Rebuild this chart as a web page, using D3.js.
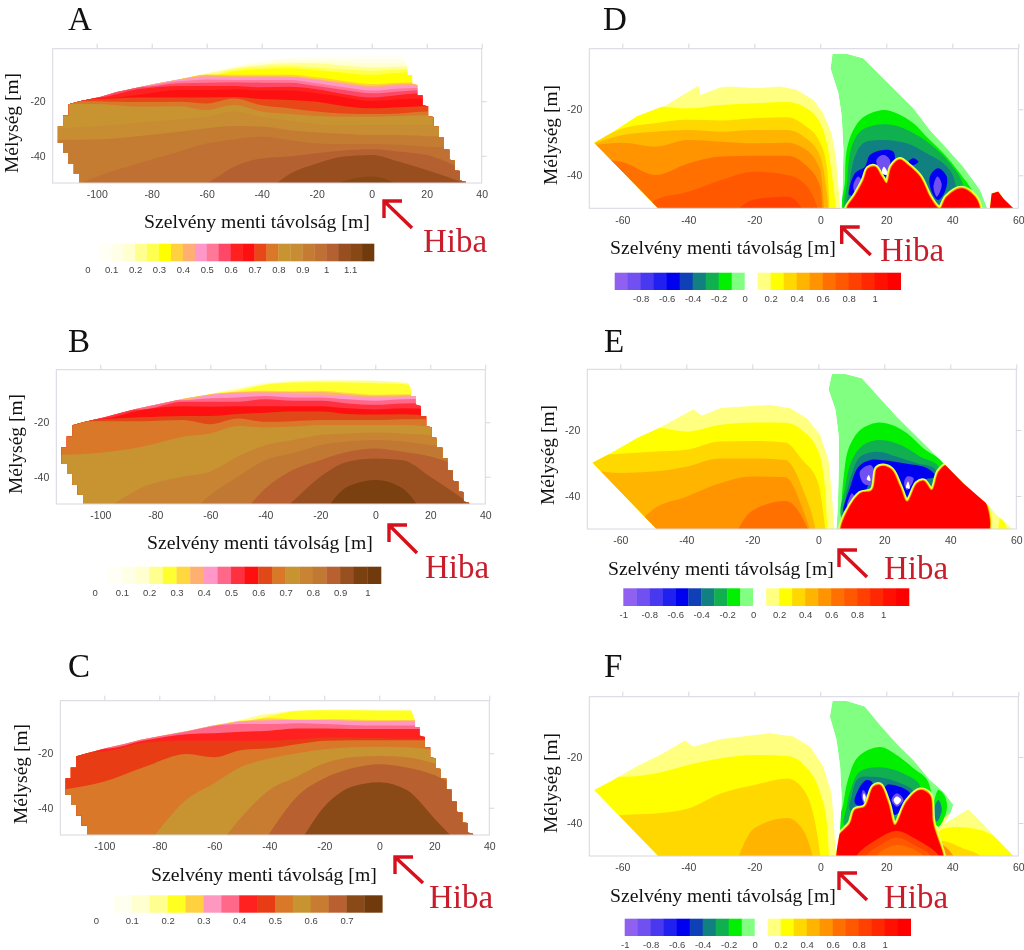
<!DOCTYPE html>
<html lang="en">
    <head>
        <meta charset="utf-8">
        <title>Szelvény menti távolság</title>
        <script src="https://d3js.org/d3.v7.min.js"></script>
        <style type="text/css">
            body { margin: 0; background: #fff; }
            svg { display: block; filter: blur(0.45px); }
            .tick text { font-family: "Liberation Sans", sans-serif; fill: #444; }
            .serif { font-family: "Liberation Serif", serif; }
        </style>
    </head>
    <body>
        <script type="text/javascript">

            // tick labels
            const leftXTicks = [-100, -80, -60, -40, -20, 0, 20, 40];
            const rightXTicks = [-60, -40, -20, 0, 20, 40, 60];
            const depthTicks = [-20, -40];
            const barTicksA = [0, 0.1, 0.2, 0.3, 0.4, 0.5, 0.6, 0.7, 0.8, 0.9, 1, 1.1];
            const barTicksB = [0, 0.1, 0.2, 0.3, 0.4, 0.5, 0.6, 0.7, 0.8, 0.9, 1];
            const barTicksC = [0, 0.1, 0.2, 0.3, 0.4, 0.5, 0.6, 0.7];
            const barTicksD = [-0.8, -0.6, -0.4, -0.2, 0, 0.2, 0.4, 0.6, 0.8, 1];
            const barTicksEF = [-1, -0.8, -0.6, -0.4, -0.2, 0, 0.2, 0.4, 0.6, 0.8, 1];

            // colour bars, one colour per 0.05 step (0.1 on the right side)
            const coloursA = ["#ffffff","#fffff5","#ffffe8","#ffffd0","#ffff90","#ffff50","#ffff00","#ffd040","#ffb070","#ff98c8","#ff7898","#ff4868","#ff2020","#ff1010","#e84818","#d87828","#c89432","#c88c32","#c47c32","#c07032","#b46030","#984e1e","#884815","#703a0c"];
            const coloursB = ["#ffffff","#fffff5","#ffffe8","#ffffd0","#ffff90","#ffff30","#ffd840","#ffb070","#ff98c8","#ff6888","#ff3040","#ff1010","#e04818","#d87828","#c89432","#c88432","#c07832","#b86030","#985020","#7a4010","#703a0c"];
            const coloursC = ["#ffffff","#fffff0","#ffffd0","#ffff90","#ffff20","#ffd040","#ff98c0","#ff6888","#ff2020","#e83c14","#d87828","#c89432","#c87c32","#b86030","#8a4a18","#703a0c"];
            const coloursRight = ["#9060f0","#7050f0","#4838f0","#2020f0","#0000f0","#1040b8","#108080","#10b050","#00f000","#80ff80","#ffffff","#ffff80","#ffff00","#ffd800","#ffb400","#ff9400","#ff7000","#ff5800","#ff4000","#ff2800","#ff1000","#ff0000"];

            // distance values where the contour tops of panels A, B, C were read
            const gridLeft = [-116, -100, -85, -70, -60, -50, -40, -30, -20, -10, 0, 10, 20, 35];

            const stairsRight = [[13,-8],[13,-10.4],[14.7,-10.4],[14.7,-13.5],[16.6,-14],[16.6,-17.8],[18.5,-17.8],[18.5,-21.5],[20.5,-21.8],[20.5,-25.5],[22.4,-25.8],[22.4,-29.2],[24.4,-29.4],[24.4,-33.1],[26.3,-33.4],[26.3,-37.5],[28.2,-37.8],[28.2,-41.5],[30.2,-41.7],[30.2,-45.4],[32.1,-45.6],[32.1,-49.1],[34.1,-49.5],[34.1,-50]];
            const stairsLeft = [[-106.3,-50],[-106.3,-46.6],[-108.3,-46.6],[-108.3,-42.9],[-110.2,-42.9],[-110.2,-39],[-112.1,-39],[-112.1,-35.3],[-114.1,-35.3],[-114.1,-29.2],[-112.2,-29.2],[-112.2,-25.2],[-110.2,-25.2],[-110.2,-21.1],[-106.3,-20]];

            const topA = [[-98.8,-18.4],[-92.7,-16.6],[-86.7,-15.3],[-78.2,-13.5],[-69.7,-11.9],[-60,-9.8],[-52.7,-8],[-43,-5.8],[-32.1,-4.3],[-20,-3.4],[-1.8,-3.1],[11.5,-3.1]];
            const topB = [[-98.8,-18.3],[-92.7,-16.6],[-86.7,-15],[-78.2,-13.2],[-69.7,-11.4],[-60,-9.7],[-52.7,-8],[-43,-5.9],[-32.1,-4.6],[-20,-4.3],[-1.8,-4.5],[12,-5.6]];
            const topC = [[-98.8,-18],[-92.7,-16.6],[-86.7,-15],[-78.2,-13.4],[-69.7,-11.8],[-60,-9.7],[-52.7,-8.4],[-43,-5.9],[-32.1,-4.4],[-20,-3.9],[-1.8,-3.9],[11.5,-3.9]];

            const levelsA = [0.075,0.125,0.175,0.225,0.275,0.325,0.375,0.425,0.475,0.525,0.575,0.625,0.675,0.725,0.775,0.825,0.875,0.925,0.975,1.025,1.075,1.125];
            const depthsA = [
                [-2,-2,-2,-2,-2,-2,-2,-2,-2,-2,-2,-2,-2,-2],
                [-5,-5,-5,-5,-5,-5,-4.8,-4.4,-4.2,-4.6,-4.8,-4.8,-5,-5],
                [-6,-6,-6,-7,-8,-7,-6.1,-5.1,-5.1,-5.6,-6.1,-6.1,-6,-6],
                [-9,-9,-9,-9,-9.5,-7.9,-6.7,-6.1,-6.1,-7,-7.6,-7.3,-7,-7],
                [-10,-10,-10,-10,-10.4,-8.3,-7.3,-7.1,-7.6,-8.3,-8.8,-8.3,-8,-8],
                [-10.5,-10.5,-10.5,-10.5,-10.8,-9,-8.2,-7.9,-8.6,-9.5,-10.3,-9.5,-9,-9],
                [-11.3,-11.3,-11.3,-11.3,-10.2,-10.3,-10.3,-10.3,-11.2,-12.6,-13.7,-13.2,-13,-13],
                [-11.6,-11.6,-11.6,-11.6,-10.5,-10.8,-10.8,-10.9,-11.9,-13.2,-14.4,-13.7,-13.5,-13.5],
                [-12.5,-12.5,-12.5,-12,-11,-11.2,-11.1,-11.2,-12.2,-13.7,-14.9,-14.2,-14,-14],
                [-13,-14,-14.5,-12.7,-12,-12.2,-12.2,-12.2,-13.4,-14.9,-16.1,-15.3,-15,-15],
                [-15,-15,-14.9,-13.4,-13.2,-13,-13.2,-13.2,-14.4,-15.9,-17.1,-16.4,-16,-16],
                [-18.6,-18.6,-15.6,-14.4,-14.4,-14.4,-14.9,-14.7,-15.6,-17.4,-18.6,-17.7,-17,-17],
                [-19,-19.1,-17.7,-15.9,-15.9,-15.6,-16.1,-16.1,-17.1,-18.5,-19.9,-19.3,-19,-19],
                [-19.5,-19.2,-18.6,-18.6,-18.6,-18.4,-19.2,-19.5,-20.2,-21.8,-22.6,-22.2,-21.8,-21.8],
                [-20,-20,-20.3,-20.2,-20.8,-19,-21.5,-22.6,-23.8,-24.5,-24.7,-24.5,-23.8,-24],
                [-21,-21,-22,-21.8,-23.2,-21.4,-23.8,-24.7,-25.4,-25.7,-25.7,-25.4,-25.1,-25],
                [-30,-29.1,-27.9,-26.6,-25.7,-23.8,-25.7,-27.1,-28.4,-28.9,-28.7,-28.7,-28.7,-29],
                [-34.2,-34,-32.8,-31.2,-29.9,-29.1,-29.3,-30.6,-31.5,-32,-32.4,-32.4,-32.8,-33],
                [-55,-47.7,-42.8,-38.5,-35.5,-34,-33,-34.2,-35.5,-35.7,-35.7,-36,-36.7,-37],
                [-70,-70,-60,-53,-50,-44,-41,-40.3,-39.1,-38.1,-37.6,-38.5,-39.7,-46],
                [-70,-70,-70,-70,-70,-65,-55,-46.8,-42.8,-40.3,-39.7,-42.2,-45.2,-50.5],
                [-70,-70,-70,-70,-70,-70,-65,-60,-55,-49.3,-47.6,-51,-60,-70]
            ];

            const levelsB = [0.075,0.125,0.175,0.225,0.275,0.325,0.375,0.425,0.475,0.525,0.575,0.625,0.675,0.725,0.775,0.825,0.875,0.925,0.975];
            const depthsB = [
                [-2,-2,-2,-2,-2,-2,-2,-2,-2,-2,-2,-2,-2,-2],
                [-5,-5,-5,-5,-5,-5,-4.5,-4.4,-4.3,-4.3,-4.5,-4.6,-5,-5],
                [-6,-6,-6,-6,-7,-7,-5.5,-4.8,-4.6,-4.6,-4.8,-5,-5,-5],
                [-8,-8,-8,-8,-9,-7.9,-6,-5.1,-4.8,-4.8,-4.8,-5.2,-6,-6],
                [-9,-9,-9,-9,-9.2,-8.4,-6.2,-5.4,-5.3,-5.4,-5.7,-6,-7,-7],
                [-9.3,-9.3,-9.3,-9.3,-9.5,-8.8,-8.4,-8.6,-8.4,-9.2,-9.9,-9.7,-9.7,-9.7],
                [-10,-10,-10,-10.5,-9.7,-9,-8.8,-8.9,-8.9,-9.7,-10.3,-10.1,-10,-10],
                [-11,-11,-11,-11.9,-10,-9.4,-9.2,-9.7,-9.9,-10.4,-10.9,-10.6,-10.5,-10.5],
                [-11,-11,-11,-11.9,-11.2,-10.9,-10.4,-10.9,-10.9,-11.6,-12.1,-11.6,-11.5,-11.5],
                [-15,-15,-15.3,-12.5,-12.5,-12.5,-11.6,-12.1,-12.1,-13.1,-13.6,-13.1,-13,-13],
                [-18.7,-18.7,-15.5,-14.1,-14.3,-14.1,-14.1,-14.1,-14.1,-14.9,-15.3,-14.9,-15,-15],
                [-19,-18.9,-18.2,-17.7,-17.7,-17,-16.5,-16.1,-16.1,-17,-17.2,-17.1,-17.5,-17.5],
                [-19.6,-19.6,-19.6,-19.2,-20.7,-18.6,-19.8,-19.6,-19.2,-19.2,-19.2,-18.9,-18.9,-18.9],
                [-32,-31.2,-29,-25.3,-24.1,-21.4,-21.9,-21.6,-21,-21,-21,-21,-21.4,-21.4],
                [-70,-54,-44,-40,-38.1,-32.6,-28.4,-26.5,-24.7,-24.1,-23.8,-24.1,-24.7,-25],
                [-70,-70,-70,-56,-46.7,-40,-33.9,-31.4,-28.4,-27.1,-26.5,-27.1,-28.4,-29],
                [-70,-70,-70,-70,-70,-56,-44.3,-37.5,-33.9,-30.8,-29.6,-30.8,-32.6,-38],
                [-70,-70,-70,-70,-70,-70,-58,-49,-40,-34.5,-33.3,-33.9,-40,-50.3],
                [-70,-70,-70,-70,-70,-70,-70,-70,-55,-43.6,-41.2,-44.3,-57,-70]
            ];

            const levelsC = [0.075,0.125,0.175,0.225,0.275,0.325,0.375,0.425,0.475,0.525,0.575,0.625,0.675,0.725];
            const depthsC = [
                [-2,-2,-2,-2,-2,-2,-2,-2,-2,-2,-2,-2,-2,-2],
                [-3.5,-3.5,-3.5,-3.5,-3.5,-3.5,-3.5,-3.5,-3.5,-3.5,-3.5,-3.5,-3.5,-3.5],
                [-6,-6,-6,-6,-6,-6,-5.6,-4.2,-3.9,-3.9,-4.1,-3.9,-4,-4],
                [-8,-8,-8,-8,-8,-8,-6.4,-4.5,-4.2,-4.2,-4.4,-4.4,-4.5,-4.5],
                [-8.2,-8.2,-8.2,-8.2,-8.2,-8.2,-7.2,-7.6,-7.5,-7.6,-7.8,-7.8,-7.8,-7.8],
                [-9,-9,-9,-9,-9.7,-8.3,-7.9,-7.8,-7.8,-8.1,-8.2,-8.1,-8.1,-8.1],
                [-14,-14,-14,-12,-10,-9.3,-9.3,-9,-9.3,-9.7,-9.8,-9.8,-9.8,-9.8],
                [-18,-18.3,-15.2,-13,-12.7,-12.1,-11.7,-10.9,-10.9,-11.1,-11.1,-11.1,-11.1,-11.1],
                [-20,-19.4,-16.1,-15.4,-15.4,-15.4,-15.4,-14.9,-14.2,-14.2,-14.4,-14.7,-14.7,-14.7],
                [-33.5,-30.4,-24.9,-20.3,-21.5,-18.8,-18.2,-16.7,-15.4,-15.2,-15.2,-15.2,-15.2,-15.2],
                [-70,-70,-54,-36.9,-31,-24.9,-21.9,-20,-18.5,-17.8,-17.6,-17.8,-18.6,-19],
                [-70,-70,-70,-70,-56,-43.3,-33.5,-28.6,-23.7,-21.5,-21,-21.5,-23.7,-29],
                [-70,-70,-70,-70,-70,-65,-49.5,-36,-29.2,-25.5,-24,-25.2,-28,-37],
                [-70,-70,-70,-70,-70,-70,-65,-54,-39.6,-32.3,-30.6,-33.5,-43.9,-60]
            ];

            // panels D, E, F: the positive lobe left of the fault
            const gridRight = [-70, -60, -50, -40, -30, -20, -10, -5, 0, 2, 4, 6];

            const lobeD = [[-68.5,-30.1],[-62.7,-26.8],[-55.7,-22.2],[-46.6,-18.7],[-37,-12.9],[-36.3,-15.7],[-30.4,-13.4],[-27.4,-13.1],[-19.3,-13.6],[-12.2,-13.1],[-7.2,-14.1],[-2.1,-17.2],[0.9,-21.2],[3.4,-27.3],[4.7,-34.3],[5.5,-43.4],[6,-50],[-49.1,-50]];
            const lobeE = [[-68.4,-29.9],[-63,-27.1],[-55,-22.5],[-48.4,-19.5],[-37.8,-13.7],[-35.3,-15.7],[-29.7,-13.4],[-26.7,-13.1],[-14.5,-12.4],[-8.5,-13.4],[-3.4,-16.5],[0.6,-21.5],[3.1,-29.1],[4.1,-39.2],[4.8,-50],[-49,-50]];
            const lobeF = [[-68.5,-30],[-63.7,-27.5],[-55.7,-22.9],[-47.6,-18.9],[-41,-15],[-38.5,-16.9],[-30.4,-14.6],[-25.4,-14],[-15.3,-12.8],[-8.2,-13.8],[-3.1,-16.9],[0.9,-22.9],[3.4,-31],[4.1,-40.1],[4.7,-50],[-49.1,-50]];

            const lobeLevelsD = [0.15,0.25,0.35,0.45,0.55,0.65,0.75,0.85];
            const lobeDepthsD = [
                [-2,-2,-2,-2,-2,-2,-2,-2,-2,-2,-2,-2],
                [-25,-22,-19.2,-19.7,-18.7,-18.2,-17.8,-19.2,-24.2,-30.3,-43.4,-65],
                [-31,-25.8,-24.2,-23.2,-23.4,-22.7,-22.4,-24.7,-30.3,-37.4,-70,-70],
                [-31,-27.8,-26.8,-26.3,-26.8,-26.3,-26.3,-28.3,-34.3,-45.5,-70,-70],
                [-31,-30.1,-31.3,-29.3,-29.8,-30.3,-30.1,-31.8,-38.4,-60,-70,-70],
                [-35,-36,-39.9,-36.4,-34.3,-34.1,-34.1,-36.4,-43.4,-70,-70,-70],
                [-70,-60,-47.5,-45,-41.4,-38.9,-39.9,-42.4,-53,-70,-70,-70],
                [-70,-70,-70,-70,-56,-47.3,-46.5,-51,-70,-70,-70,-70]
            ];
            const lobeLevelsE = [0.15,0.25,0.35,0.45,0.55,0.65];
            const lobeDepthsE = [
                [-2,-2,-2,-2,-2,-2,-2,-2,-2,-2,-2,-2],
                [-24,-24,-19.2,-20.5,-18.5,-17.7,-17.8,-20,-26.6,-37.2,-70,-70],
                [-28,-27.2,-26.6,-26,-23.5,-23.3,-23.8,-28.9,-36.2,-49.3,-70,-70],
                [-32,-33,-32.6,-31.1,-28.6,-28.6,-29.1,-37.2,-55,-70,-70,-70],
                [-70,-55,-44,-40.2,-36.2,-34.1,-34.3,-43.2,-60,-70,-70,-70],
                [-70,-70,-70,-70,-60,-44.5,-41.5,-46.3,-60,-70,-70,-70]
            ];
            const lobeLevelsF = [0.15,0.25,0.35,0.45];
            const lobeDepthsF = [
                [-2,-2,-2,-2,-2,-2,-2,-2,-2,-2,-2,-2],
                [-25,-26,-25,-22.4,-20.4,-19.4,-19.7,-22.4,-31,-40.1,-70,-70],
                [-42,-37.6,-37.1,-35.6,-31,-28.5,-26.5,-30,-50,-70,-70,-70],
                [-70,-70,-70,-70,-62,-41.6,-38.5,-42.5,-60,-70,-70,-70]
            ];

            // panels D, E, F: the part right of the fault, closed contours in painting order
            const wedgeD = [[3.7,-3.2],[8,-3.2],[13,-4.5],[17.1,-8.6],[23.1,-14.6],[28.2,-19.7],[33.2,-26.3],[38.3,-31.8],[43.3,-37.4],[48.4,-44.4],[50.6,-50],[6.5,-50],[6.8,-42.4],[7,-32.3],[6.5,-22.2],[5.5,-15.2],[3.1,-7.6]];
            const wedgeE = [[4.1,-3],[8.2,-3],[13.2,-4.3],[17.8,-9.4],[23.8,-16],[31.9,-24],[38.5,-30.6],[44,-36.2],[50.6,-42],[54.1,-45.8],[58.7,-50],[5.5,-50],[5.9,-43.2],[6.2,-32.1],[6.2,-22],[5.2,-13.9],[3.1,-7.7]];
            const wedgeF = [[3.7,-3],[8,-3],[13.5,-4.7],[18.1,-10.3],[23.1,-15.9],[28.2,-20.9],[33.2,-27],[37.3,-30.5],[40.3,-34.5],[39.5,-37],[37.3,-40.6],[44.8,-35.9],[58.5,-50],[4.7,-50],[6,-42.1],[6.5,-33],[6,-22.9],[4.9,-14.8],[2.9,-7.8]];
            const blobD = [[51.4,-50],[51.9,-45.5],[53.9,-44.9],[55.5,-47],[58.5,-50]];

            const contourValuesD = [-0.15,-0.25,-0.35,-0.55,-0.55,-0.55,-0.85,-0.85,-0.85,0.05,1.15,1.15];
            const contoursD = [
                [[19.1,-20.2],[13,-22.4],[10,-26.3],[8,-32.3],[7.5,-41.4],[7.5,-53],[47.9,-53],[46.4,-45.5],[42.3,-39.4],[37.3,-33.3],[32.2,-28.3],[28.2,-24.2],[23.1,-21.2]],
                [[17.1,-24.7],[12,-26.8],[9.5,-31.3],[8.2,-41.4],[8.2,-53],[43.3,-53],[42.9,-41.9],[39.3,-36.4],[34.2,-31.3],[29.2,-27.8],[23.1,-25]],
                [[18.1,-29.3],[13,-30.3],[10.5,-34.3],[8.8,-43.4],[8.8,-53],[40.3,-53],[40.3,-40.4],[37.3,-36.4],[32.2,-33.3],[26.2,-30.3]],
                [[19.1,-32.3],[15.1,-33.8],[13.5,-37.4],[10.5,-39.4],[8.8,-46],[12,-45.5],[17,-39.4],[20.5,-40.4],[22.6,-35.4],[22.1,-32.8]],
                [[35.7,-37.9],[38.3,-40.4],[37.8,-44.9],[35.7,-47.5],[33.7,-44.9],[33.2,-40.4]],
                [[28.2,-34.8],[29.7,-35.9],[28.2,-36.9],[26.7,-35.9]],
                [[19.1,-33.8],[17,-35.4],[18.1,-38.4],[20.5,-39.4],[21.1,-35.4]],
                [[35.5,-40.4],[36.8,-42.9],[35.3,-46.5],[34.3,-43.4]],
                [[11.5,-40.4],[12.5,-41.9],[10.5,-45],[10,-43]],
                [[19.3,-37.4],[20.5,-39.9],[18.6,-39.4]],
                [[8,-53],[8,-50],[10.6,-46],[13.1,-41.4],[14.5,-37.9],[16.6,-37.4],[18.6,-40.4],[20.1,-42.4],[21.6,-37.4],[24.1,-35.2],[26.6,-36.9],[30.2,-40.4],[33.2,-46.5],[35.3,-49.5],[36.3,-50],[38.3,-46.5],[42.8,-43.9],[46.9,-46.5],[48.4,-50],[48.4,-53]],
                blobD
            ];
            const contourValuesE = [0.15,0.25,-0.15,-0.25,-0.35,-0.55,-0.85,-0.85,-0.85,0.05,0.05,1.15];
            const contoursE = [
                [[50.9,-42.7],[58.7,-50],[58.7,-53],[51.6,-53],[51.6,-50]],
                [[55.2,-46.3],[57.2,-50],[57.2,-53],[54.6,-53],[54.6,-50]],
                [[17.8,-17.8],[12.7,-20],[9.2,-25.6],[7.7,-34.1],[6.9,-46.3],[6.9,-53],[44,-53],[38,-30.3],[31.9,-25.6],[26.9,-21],[22.3,-18.5]],
                [[18.8,-23],[13.7,-24.5],[10.2,-29.1],[8.2,-37.2],[7.5,-47.3],[38,-47.3],[36.5,-31.1],[30.9,-28.1],[24.8,-24.5]],
                [[17.8,-26.6],[12.7,-28.1],[10.2,-33.1],[8.2,-41.2],[7.7,-47.3],[36,-47.3],[35.5,-32.1],[29.9,-30.1],[23.8,-28.1]],
                [[15.8,-29.1],[12.2,-31.1],[9.7,-37.2],[7.7,-44.7],[12.7,-41.2],[17.8,-33.1],[23.8,-34.1],[26.9,-40.2],[31.9,-35.2],[35.5,-34.1],[33,-31.6],[25.9,-30.1],[18.8,-29.1]],
                [[15.8,-30.6],[12.6,-32.6],[13.7,-36.2],[15.8,-36.7],[17.3,-33.6]],
                [[26.9,-34.1],[26,-36],[26.9,-38.2],[28.9,-34.6]],
                [[10.2,-39.2],[8.7,-43.2],[11.2,-41.2]],
                [[15.3,-33.6],[15.8,-35.4],[14.7,-35]],
                [[27.2,-35.6],[27.7,-37.7],[26.6,-37.5]],
                [[6.7,-53],[6.7,-50],[8.7,-44.7],[12.7,-39.2],[16.3,-38.2],[17.8,-31.6],[19.8,-30.9],[22.3,-32.1],[24.8,-37.2],[26.9,-41.7],[29.9,-36.2],[31.9,-35.4],[34.4,-38.2],[36.5,-32.6],[39,-30.6],[44,-35.7],[50.6,-41.7],[50.6,-53]]
            ];
            const contourValuesF = [0.15,0.25,0.35,0.55,-0.15,-0.15,-0.25,-0.35,-0.35,-0.55,-0.55,-0.85,-0.85,0.05,0.05,1.15,0.85,0.75,0.65];
            const contoursF = [
                [[34.7,-41.1],[44.8,-35.9],[58.5,-50],[58.5,-53],[34.7,-53]],
                [[35.8,-42.6],[49.9,-42.6],[58.5,-50],[58.5,-53],[35.8,-53]],
                [[36.3,-45.7],[43.3,-47.7],[48.4,-50],[48.4,-53],[36.3,-53]],
                [[36.8,-46.7],[40.3,-50],[40.3,-53],[36.8,-53]],
                [[18.1,-17],[11.5,-19.9],[8.5,-26.5],[7,-34],[6,-42.1],[32.2,-42.1],[32.7,-27.5],[28.2,-23.4],[23.1,-19.4]],
                [[35.8,-30],[37.8,-32],[38.3,-36.1],[35.8,-41.1],[34.2,-38]],
                [[18.1,-23.1],[12,-24.4],[9.5,-29],[8,-35],[7.5,-41],[23.1,-40],[30.3,-29],[25.2,-25]],
                [[16.1,-26],[11.5,-26.5],[9.5,-32],[9,-36],[23.1,-36],[28.2,-30.5],[23.1,-27.5]],
                [[35.8,-33],[36.8,-36.1],[35.3,-39.6],[34.4,-36]],
                [[14,-27],[11.5,-30],[10.5,-34],[14,-35],[16,-31],[15.6,-27.5]],
                [[20.1,-28.5],[27.2,-31],[22.6,-37.6],[19.6,-32]],
                [[13,-30],[14.2,-32],[13.5,-34.5],[12.5,-32]],
                [[23.2,-31],[25.2,-33],[23.2,-35],[21.6,-33]],
                [[13.2,-31],[13.8,-32.2],[13.4,-33.6],[12.9,-32.2]],
                [[23.2,-32],[24.5,-33],[23.2,-34.4],[22.2,-33]],
                [[4.9,-53],[4.9,-50],[5.5,-44.1],[9,-40.1],[10.5,-36],[13.5,-35],[16.1,-29],[18.1,-28.5],[20.6,-34],[22.6,-40.6],[26.2,-33.5],[30.2,-30],[33.2,-31.5],[34.2,-40.1],[37.3,-50],[37.3,-53]],
                [[11,-53],[11,-50],[17.1,-45],[23.1,-42.4],[29.2,-45],[36,-50],[36,-53]],
                [[14,-53],[14,-50],[18.6,-46.4],[23.1,-44.4],[28.4,-46.6],[33.5,-50],[33.5,-53]],
                [[17.1,-53],[17.1,-50],[23.1,-46.7],[31.2,-50],[31.2,-53]]
            ];

            const xLabel = "Szelvény menti távolság [m]";
            const yLabel = "Mélység [m]";
            const faultLabel = "Hiba";

            // layout of the six panels in the page
            const leftPanels = [
                { name: "A", left: 52.7, top: 48.7, bottom: 183, top2: topA, levels: levelsA, depths: depthsA, colours: coloursA, bar: [87.3, 374, 243.7, 261.3], barMax: 1.2, barTicks: barTicksA, lx: 68, ly: 30, yx: 18, yy: 123, xx: 144, xy: 228, hx: 423, hy: 252, tip: [384, 201], tail: [412, 228] },
                { name: "B", left: 56.3, top: 369.7, bottom: 504, top2: topB, levels: levelsB, depths: depthsB, colours: coloursB, bar: [94.7, 381, 566.7, 584], barMax: 1.05, barTicks: barTicksB, lx: 68, ly: 352, yx: 22, yy: 444, xx: 147, xy: 549, hx: 425, hy: 578, tip: [389, 525], tail: [417, 553] },
                { name: "C", left: 60.3, top: 700.7, bottom: 835, top2: topC, levels: levelsC, depths: depthsC, colours: coloursC, bar: [96, 382.3, 895.3, 912.7], barMax: 0.8, barTicks: barTicksC, lx: 68, ly: 677, yx: 27, yy: 774, xx: 151, xy: 881, hx: 429, hy: 908, tip: [395, 857], tail: [423, 883] }
            ];
            const rightPanels = [
                { name: "D", left: 589.3, top: 48.7, bottom: 208.3, lobe: lobeD, lobeLevels: lobeLevelsD, lobeDepths: lobeDepthsD, wedge: wedgeD, extra: blobD, values: contourValuesD, contours: contoursD, bar: [614.7, 900.7, 272.7, 290], barTicks: barTicksD, lx: 603, ly: 30, yx: 557, yy: 135, xx: 610, xy: 254, hx: 880, hy: 261, tip: [841.7, 227], tail: [870.7, 255] },
                { name: "E", left: 587.3, top: 369.3, bottom: 529, lobe: lobeE, lobeLevels: lobeLevelsE, lobeDepths: lobeDepthsE, wedge: wedgeE, values: contourValuesE, contours: contoursE, bar: [623.3, 909, 588.3, 606], barTicks: barTicksEF, lx: 604, ly: 352, yx: 554, yy: 455, xx: 608, xy: 575, hx: 884, hy: 579, tip: [839, 550], tail: [867, 577] },
                { name: "F", left: 589.3, top: 696.7, bottom: 856, lobe: lobeF, lobeLevels: lobeLevelsF, lobeDepths: lobeDepthsF, wedge: wedgeF, values: contourValuesF, contours: contoursF, bar: [624.7, 910.7, 918.7, 936], barTicks: barTicksEF, lx: 604, ly: 677, yx: 557, yy: 783, xx: 610, xy: 902, hx: 884, hy: 908, tip: [839, 873], tail: [867, 900] }
            ];

            const svgW = 1024;
            const svgH = 950;
            const pxLeft = 2.75;
            const pxRight = 3.3;

            const svg = d3.select("body")
                    .append("svg")
                    .attr("width", svgW)
                    .attr("height", svgH);

            function frameAndAxes(g, p, x, y, xTicks) {
                const right = x.range()[1];
                g.append("rect")
                    .attr("x", p.left).attr("y", p.top)
                    .attr("width", right - p.left).attr("height", p.bottom - p.top)
                    .attr("fill", "none").attr("stroke", "#d6d6e0").attr("stroke-width", 1);

                const bottomAxis = g.append("g")
                    .attr("transform", "translate(0," + p.bottom + ")")
                    .call(d3.axisBottom(x).tickValues(xTicks).tickSize(0).tickPadding(8).tickFormat(d => String(d)));
                const leftAxis = g.append("g")
                    .attr("transform", "translate(" + p.left + ",0)")
                    .call(d3.axisLeft(y).tickValues(depthTicks).tickSize(0).tickPadding(7).tickFormat(d => String(d)));
                const topAxis = g.append("g")
                    .attr("transform", "translate(0," + p.top + ")")
                    .call(d3.axisTop(x).tickValues(xTicks).tickSize(5).tickFormat(""));
                const rightAxis = g.append("g")
                    .attr("transform", "translate(" + right + ",0)")
                    .call(d3.axisRight(y).tickValues(depthTicks).tickSize(5).tickFormat(""));

                [bottomAxis, leftAxis, topAxis, rightAxis].forEach(a => {
                    a.select(".domain").remove();
                    a.selectAll("line").attr("stroke", "#d6d6e0");
                    a.selectAll("text").attr("font-size", 10.5);
                });
            }

            function labels(g, p) {
                g.append("text").attr("class", "serif")
                    .attr("x", p.lx).attr("y", p.ly)
                    .attr("font-size", 33).attr("fill", "#111")
                    .text(p.name);
                g.append("text").attr("class", "serif")
                    .attr("transform", "translate(" + p.yx + "," + p.yy + ") rotate(-90)")
                    .attr("text-anchor", "middle")
                    .attr("font-size", 19.5).attr("fill", "#111")
                    .text(yLabel);
                g.append("text").attr("class", "serif")
                    .attr("x", p.xx).attr("y", p.xy)
                    .attr("font-size", 19.7).attr("fill", "#111")
                    .text(xLabel);
                g.append("text").attr("class", "serif")
                    .attr("x", p.hx).attr("y", p.hy)
                    .attr("font-size", 33).attr("fill", "#c81e2c")
                    .text(faultLabel);
                g.append("path")
                    .attr("d", "M" + p.tail + "L" + p.tip + "M" + [p.tip[0], p.tip[1] + 17] + "L" + p.tip + "L" + [p.tip[0] + 18, p.tip[1]])
                    .attr("fill", "none").attr("stroke", "#d8101c").attr("stroke-width", 3.4);
            }

            function colourBar(g, bar, domain, colours, ticks) {
                const barScale = d3.scaleLinear().domain(domain).range([bar[0], bar[1]]);
                const step = (domain[1] - domain[0]) / colours.length;
                g.selectAll("rect.cell")
                    .data(colours)
                    .enter()
                    .append("rect")
                    .attr("class", "cell")
                    .attr("x", (d, i) => barScale(domain[0] + i * step))
                    .attr("y", bar[2])
                    .attr("width", barScale(domain[0] + step) - barScale(domain[0]) + 0.3)
                    .attr("height", bar[3] - bar[2])
                    .attr("fill", d => d);
                const axis = g.append("g")
                    .attr("transform", "translate(0," + bar[3] + ")")
                    .call(d3.axisBottom(barScale).tickValues(ticks).tickSize(0).tickPadding(5).tickFormat(d => String(d)));
                axis.select(".domain").remove();
                axis.selectAll("text").attr("font-size", 9.5);
            }

            function bandArea(grid, x, y, depthRow) {
                return d3.area()
                    .x((d, i) => x(grid[i]))
                    .y0(y(-50))
                    .y1(d => y(d))
                    .curve(d3.curveMonotoneX)(depthRow);
            }

            // panels A, B, C
            leftPanels.forEach(p => {
                const g = svg.append("g");
                const x = d3.scaleLinear().domain([-116, 40]).range([p.left, p.left + 156 * pxLeft]);
                const y = d3.scaleLinear().domain([-50, -50 + (p.bottom - p.top) / 2.725]).range([p.bottom, p.top]);
                const colour = d3.scaleQuantize().domain([0, p.barMax]).range(p.colours);
                const line = d3.line().x(d => x(d[0])).y(d => y(d[1]));
                const outline = [...p.top2, ...stairsRight, ...stairsLeft];

                g.append("clipPath").attr("id", "clip" + p.name)
                    .append("path").attr("d", line(outline) + "Z");

                g.append("g").attr("clip-path", "url(#clip" + p.name + ")")
                    .selectAll("path")
                    .data(p.depths)
                    .enter()
                    .append("path")
                    .attr("d", d => bandArea(gridLeft, x, y, d))
                    .attr("fill", (d, i) => colour(p.levels[i]));

                frameAndAxes(g, p, x, y, leftXTicks);
                colourBar(g, p.bar, [0, p.barMax], p.colours, p.barTicks);
                labels(g, p);
            });

            // panels D, E, F
            const colourRight = d3.scaleQuantize().domain([-1, 1.2]).range(coloursRight);
            const rimColours = [["#d8ff90", 5], ["#ffff00", 3.4], ["#ff9800", 1.6]];

            rightPanels.forEach(p => {
                const g = svg.append("g");
                const x = d3.scaleLinear().domain([-70, 60]).range([p.left, p.left + 130 * pxRight]);
                const y = d3.scaleLinear().domain([-50, -50 + (p.bottom - p.top) / pxRight]).range([p.bottom, p.top]);
                const line = d3.line().x(d => x(d[0])).y(d => y(d[1]));
                const smooth = d3.line().x(d => x(d[0])).y(d => y(d[1])).curve(d3.curveCatmullRomClosed.alpha(0.5));

                const clipLobe = g.append("clipPath").attr("id", "clipL" + p.name);
                clipLobe.append("path").attr("d", line(p.lobe) + "Z");
                const clipWedge = g.append("clipPath").attr("id", "clipW" + p.name);
                clipWedge.append("path").attr("d", line(p.wedge) + "Z");
                if (p.extra) clipWedge.append("path").attr("d", line(p.extra) + "Z");

                g.append("g").attr("clip-path", "url(#clipL" + p.name + ")")
                    .selectAll("path")
                    .data(p.lobeDepths)
                    .enter()
                    .append("path")
                    .attr("d", d => bandArea(gridRight, x, y, d))
                    .attr("fill", (d, i) => colourRight(p.lobeLevels[i]));

                const wedge = g.append("g").attr("clip-path", "url(#clipW" + p.name + ")");
                wedge.append("path").attr("d", line(p.wedge) + "Z").attr("fill", colourRight(-0.05));

                p.contours.forEach((shape, i) => {
                    const value = p.values[i];
                    const d = shape === p.extra ? line(shape) + "Z" : smooth(shape);
                    if (value > 1.1) {
                        rimColours.forEach(r => {
                            wedge.append("path").attr("d", d).attr("fill", "none")
                                .attr("stroke", r[0]).attr("stroke-width", r[1]);
                        });
                    }
                    wedge.append("path").attr("d", d).attr("fill", colourRight(value));
                });

                frameAndAxes(g, p, x, y, rightXTicks);
                colourBar(g, p.bar, [-1, 1.2], coloursRight, p.barTicks);
                labels(g, p);
            });

        </script>
    </body>
</html>
